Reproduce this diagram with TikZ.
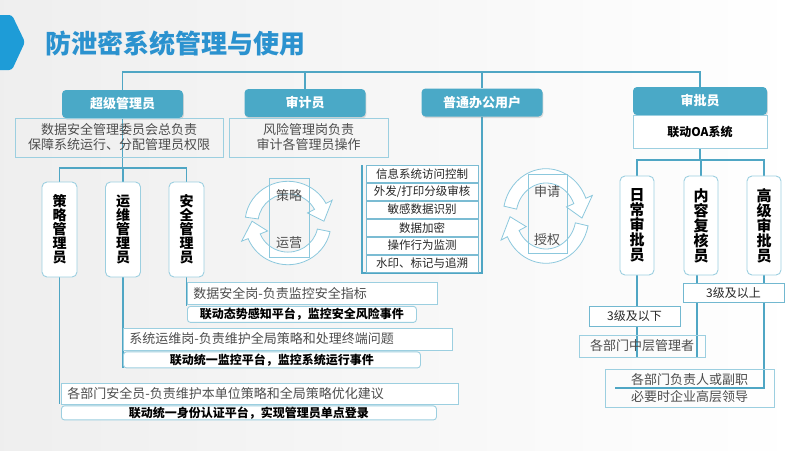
\documentclass[tikz,border=0pt]{standalone}
\usepackage{fontspec}
\setmainfont{Noto Sans CJK SC}
\usetikzlibrary{positioning, calc, shadows, backgrounds}
\pgfdeclarelayer{backdrop}
\pgfsetlayers{backdrop,background,main}
\definecolor{hdrfill}{HTML}{4AA9C7}
\definecolor{wire}{HTML}{4FA6C4}
\definecolor{rim}{HTML}{9CCFE0}
\definecolor{cycrim}{HTML}{8CC8DD}
\definecolor{titleblue}{HTML}{2B92CF}
\definecolor{tabblue}{HTML}{1E9CD7}
\definecolor{softtxt}{HTML}{4D4D4D}
\newcommand\fsz[2]{\fontsize{#1}{#2}\selectfont}
\tikzset{
  hdr/.style      = {fill=hdrfill, rounded corners=4pt, text=white,
                     font=\fsz{13}{15}\bfseries, minimum width=121pt,
                     minimum height=28pt, inner sep=0pt,
                     drop shadow={opacity=0.25, shadow xshift=0.8pt, shadow yshift=-1.5pt}},
  descbox/.style  = {draw=rim, line width=0.9pt, font=\fsz{13}{15}, text=softtxt,
                     align=center, inner sep=0pt},
  oabox/.style    = {draw=rim, line width=0.9pt, fill=white, font=\fsz{12}{14}\bfseries,
                     minimum width=134pt, minimum height=33pt, inner sep=0pt},
  tallbox/.style  = {draw=rim, line width=0.9pt, fill=white, rounded corners=5pt,
                     font=\fsz{14}{14}\bfseries, align=center,
                     minimum width=35pt, minimum height=95pt, inner sep=0pt},
  tallbox2/.style = {tallbox, font=\fsz{15}{15}\bfseries, minimum width=34pt,
                     minimum height=99pt},
  dutybox/.style  = {draw=rim, line width=0.9pt, fill=white, font=\fsz{13}{15},
                     text=softtxt, align=left, anchor=west, inner xsep=6pt,
                     inner ysep=0pt, minimum height=22pt},
  linkbox/.style  = {draw=rim, line width=0.9pt, fill=white, rounded corners=3pt,
                     font=\fsz{12}{14}\bfseries, inner sep=0pt, minimum height=16pt},
  listrow/.style  = {draw=wire!75, line width=0.8pt, fill=white, font=\fsz{11.5}{13},
                     text=black!85, minimum width=112pt, minimum height=17.2pt,
                     inner sep=0pt},
  levelbox/.style = {draw=wire!80, line width=0.9pt, fill=white, font=\fsz{12}{14},
                     text=black!85, minimum height=19pt, inner sep=0pt},
  cycline/.style  = {draw=cycrim, line width=0.8pt, fill=white},
  cyctext/.style  = {font=\fsz{13}{15}, text=softtxt},
  wire/.style     = {draw=wire, line width=1.1pt},
}
% curved block arrow around the scope origin
\newcommand\cycarrow[2]{%
  \draw[cycline] (#1:30) arc[start angle=#1, end angle=#2, radius=30]
    -- (#2:22) -- (#2+25:36) -- (#2:50) -- (#2:43)
    arc[start angle=#2, end angle=#1, radius=43] -- cycle;}

\begin{document}
\begin{tikzpicture}[x=1pt, y=-1pt]
  \useasboundingbox (0,0) rectangle (800,450);
  \begin{pgfonlayer}{backdrop}
    \shade[left color=gray!13, right color=white] (0,0) rectangle (800,450);
  \end{pgfonlayer}
  \fill[tabblue, rounded corners=3pt] (-6,15) -- (12,15) -- (25,42) -- (12,70) -- (-6,70) -- cycle;
  \node[font=\fsz{26}{30}\bfseries, text=titleblue, anchor=west] (title) at (42,44) {防泄密系统管理与使用};

  % Row 1 : the four roles
  \node[hdr]                        (super)   at (122.5,104) {超级管理员};
  \node[hdr]                        (audit)   at (305,103)   {审计员};
  \node[hdr]                        (office)  at (482,102.5) {普通办公用户};
  \node[hdr, minimum width=134pt]   (approve) at (700,101)   {审批员};
  \coordinate (bus) at (0,72);

  \node[descbox, minimum width=208pt, minimum height=39pt] (superdesc) at (119,137.5)
       {数据安全管理委员会总负责\\保障系统运行、分配管理员权限};
  \node[descbox, minimum width=159pt, minimum height=39pt] (auditdesc) at (308.5,137.5)
       {风险管理岗负责\\审计各管理员操作};
  \node[oabox] (oa) at (700,131.5) {联动OA系统};

  % super admin : three managers
  \node[tallbox] (strat) at (59.5,229.5) {策\\略\\管\\理\\员};
  \node[tallbox] (ops)   at (123,229.5)  {运\\维\\管\\理\\员};
  \node[tallbox] (sec)   at (186.5,229.5) {安\\全\\管\\理\\员};
  \coordinate (split) at (0,168);

  \node[dutybox, minimum width=250pt, text width=238pt] (secduty) at (187,293.5)
       {数据安全岗-负责监控安全指标};
  \node[linkbox, minimum width=229pt, below right=1pt and 0pt of secduty.south west] (seclink)
       {联动态势感知平台，监控安全风险事件};
  \node[dutybox, minimum width=329pt, text width=317pt] (opsduty) at (123,339)
       {系统运维岗-负责维护全局策略和处理终端问题};
  \node[linkbox, minimum width=297pt, below right=1pt and 0pt of opsduty.south west] (opslink)
       {联动统一监控平台，监控系统运行事件};
  \node[dutybox, minimum width=397pt, text width=385pt, minimum height=21pt] (stratduty) at (61,393.5)
       {各部门安全员-负责维护本单位策略和全局策略优化建议};
  \node[linkbox, minimum width=375pt, minimum height=14pt, below right=1pt and 0pt of stratduty.south west] (stratlink)
       {联动统一身份认证平台，实现管理员单点登录};

  % auditor cycle
  \begin{scope}[shift={(288,223)}, yscale=0.97]
    \cycarrow{188}{332}
    \cycarrow{12}{158}
  \end{scope}
  \node[draw=cycrim, line width=0.8pt, minimum width=40pt, minimum height=79pt] (auditloop) at (289,217.5) {};
  \node[cyctext] (policy) at (289,196) {策略};
  \node[cyctext] (runop)  at (289,243) {运营};

  % office user list
  \node[listrow]                      (acl)    at (422,173.6) {信息系统访问控制};
  \node[listrow, below=0pt of acl]    (outgo)  {外发/打印分级审核};
  \node[listrow, below=0pt of outgo]  (detect) {敏感数据识别};
  \node[listrow, below=0pt of detect] (crypt)  {数据加密};
  \node[listrow, below=0pt of crypt]  (watch)  {操作行为监测};
  \node[listrow, below=0pt of watch]  (trace)  {水印、标记与追溯};
  \coordinate (frameL) at (362,273);
  \coordinate (frameT) at (362,165);

  % approval cycle
  \begin{scope}[shift={(546,216)}, yscale=1.1]
    \cycarrow{192}{338}
    \cycarrow{12}{154}
  \end{scope}
  \node[draw=cycrim, line width=0.8pt, minimum width=39pt, minimum height=79pt] (approveloop) at (547.5,213.5) {};
  \node[cyctext] (request) at (547,192) {申请};
  \node[cyctext] (grant)   at (547,240) {授权};

  % approvers
  \node[tallbox2] (daily)  at (637,225.5) {日\\常\\审\\批\\员};
  \node[tallbox2] (review) at (701,225.5) {内\\容\\复\\核\\员};
  \node[tallbox2] (senior) at (764,225.5) {高\\级\\审\\批\\员};
  \coordinate (asplit) at (0,160);

  \node[levelbox, minimum width=101pt] (above3) at (733.5,292.5) {3级及以上};
  \node[levelbox, minimum width=91pt, minimum height=20pt] (below3) at (634.5,316) {3级及以下};
  \node[descbox, minimum width=126pt, minimum height=22pt] (midmgr) at (642,346) {各部门中层管理者};
  \node[descbox, minimum width=169pt, minimum height=38pt, font=\fsz{13}{17}] (headmgr) at (689.5,388)
       {各部门负责人或副职\\必要时企业高层领导};

  \begin{pgfonlayer}{background}
    \draw[wire] (super.north) -- (super.north |- bus) -- (bus -| approve.north) -- (approve.north);
    \draw[wire] (audit.north) -- (audit.north |- bus);
    \draw[wire] (office.north) -- (office.north |- bus);
    \draw[wire] (super.south) -- (super.south |- split);
    \draw[wire] (strat.north) -- (strat.north |- split) -- (sec.north |- split) -- (sec.north);
    \draw[wire] (ops.north) -- (ops.north |- split);
    \draw[wire] (sec.south) -- (sec.south |- seclink.north);
    \draw[wire] (ops.south) -- (ops.south |- opslink.south);
    \draw[wire] (strat.south) -- (strat.south |- stratduty.south);
    \draw[wire] (office.south) |- (frameL) -- (frameT);
    \draw[wire] (oa.south) -- (oa.south |- asplit);
    \draw[wire] (daily.north) -- (daily.north |- asplit) -- (senior.north |- asplit) -- (senior.north);
    \draw[wire] (review.north) -- (review.north |- asplit);
    \draw[wire] (daily.south) -- (daily.south |- midmgr.south);
    \draw[wire] ([xshift=-4pt]review.south) -- ([xshift=-4pt]review.south |- midmgr.south) -- (midmgr.south west);
    \draw[wire] (senior.south) -- (senior.south |- headmgr.center) -- ([xshift=10pt]headmgr.west);
  \end{pgfonlayer}
\end{tikzpicture}
\end{document}
